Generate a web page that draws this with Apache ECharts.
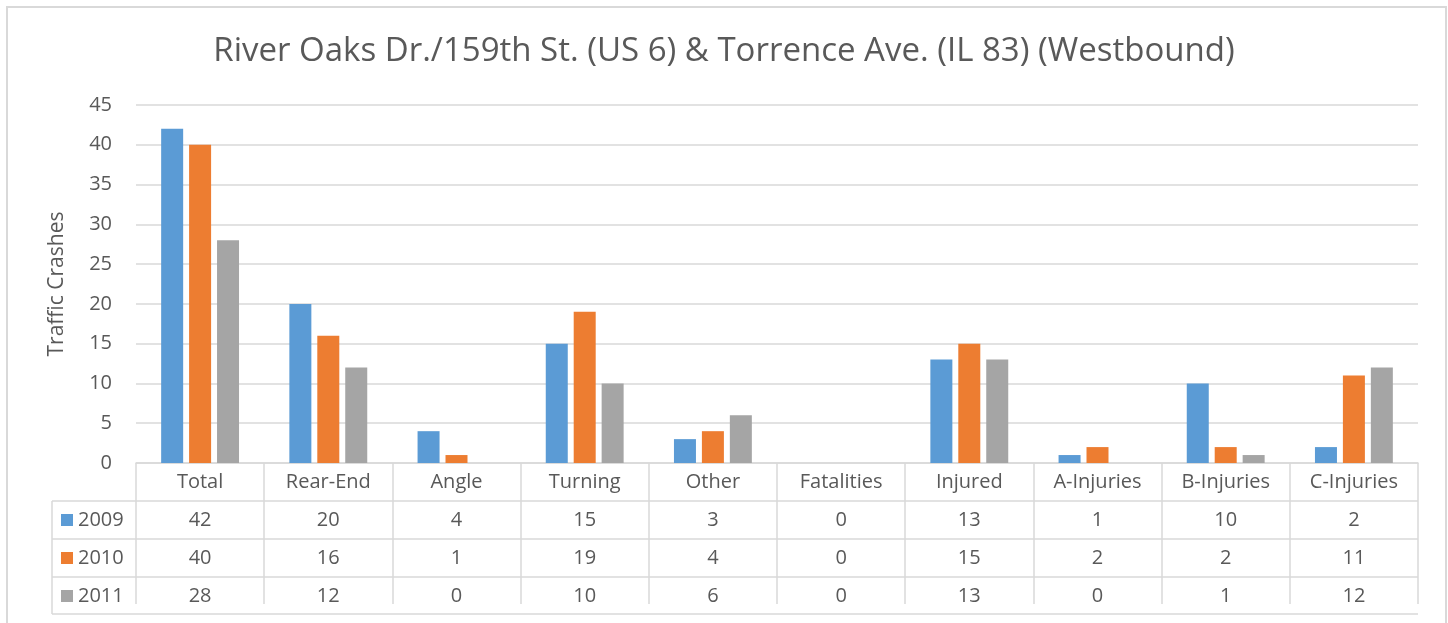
<!DOCTYPE html>
<html>
<head>
<meta charset="utf-8">
<script src="https://cdn.jsdelivr.net/npm/echarts@6/dist/echarts.min.js"></script>
<style>
  html, body { margin: 0; padding: 0; background: #fff; }
  #main { width: 1448px; height: 623px; }
</style>
</head>
<body>
<div id="main"></div>
<script>
;(function(){
  var categories = ['Total', 'Rear-End', 'Angle', 'Turning', 'Other', 'Fatalities', 'Injured', 'A-Injuries', 'B-Injuries', 'C-Injuries'];
  var years = ['2009', '2010', '2011'];
  var data2009 = [42, 20, 4, 15, 3, 0, 13, 1, 10, 2];
  var data2010 = [40, 16, 1, 19, 4, 0, 15, 2, 2, 11];
  var data2011 = [28, 12, 0, 10, 6, 0, 13, 0, 1, 12];
  var yTicks = [0, 5, 10, 15, 20, 25, 30, 35, 40, 45];

  var seriesData = [data2009, data2010, data2011];
  var colors = ['#5b9bd5', '#ed7d31', '#a5a5a5'];
  var font = 'Open Sans';
  var textColor = '#595959';
  var lineColor = '#d9d9d9';
  var fs = 20;

  // layout
  var gridLeft = 136, gridRight = 30, gridTop = 105, gridBottom = 160;
  var axisY = 623 - gridBottom;   // 463
  var rowH = 38;
  var tableLeft = 52;
  var tableRight = 1448 - gridRight;

  var chart = echarts.init(document.getElementById('main'));

  // one x axis per table row (header + one per year)
  var xAxes = [{
    type: 'category',
    data: categories,
    axisLine: { show: true, lineStyle: { color: lineColor, width: 1.5 } },
    axisTick: { show: true, length: rowH * 4 - 11, lineStyle: { color: lineColor, width: 1.5 } },
    axisLabel: { fontFamily: font, fontSize: fs, color: textColor, margin: 9, interval: 0 }
  }];
  seriesData.forEach(function(vals, k){
    xAxes.push({
      type: 'category',
      data: categories,
      position: 'bottom',
      offset: rowH * (k + 1),
      axisLine: { show: false },
      axisTick: { show: false },
      axisLabel: {
        fontFamily: font, fontSize: fs, color: textColor, margin: 9, interval: 0,
        formatter: function(v, i){ return String(vals[i]); }
      }
    });
  });

  // outer frame and table lines
  var graphics = [{
    type: 'rect',
    shape: { x: 7, y: 7, width: 1439, height: 660 },
    style: { fill: 'none', stroke: lineColor, lineWidth: 2 },
    silent: true
  }];
  for (var r = 1; r <= 4; r++) {
    var ly = axisY + rowH * r - (r === 4 ? 1 : 0);
    graphics.push({
      type: 'line',
      shape: { x1: tableLeft, y1: ly, x2: tableRight, y2: ly },
      style: { stroke: lineColor, lineWidth: 1.5 },
      silent: true
    });
  }
  graphics.push({
    type: 'line',
    shape: { x1: tableLeft, y1: axisY + rowH, x2: tableLeft, y2: axisY + rowH * 4 - 1 },
    style: { stroke: lineColor, lineWidth: 1.5 },
    silent: true
  });
  // legend keys in the table's first column
  years.forEach(function(y, k){
    var cy = axisY + rowH * (k + 1.5);
    graphics.push({
      type: 'rect',
      shape: { x: 61, y: cy - 6, width: 12, height: 12 },
      style: { fill: colors[k] },
      silent: true
    });
    graphics.push({
      type: 'text',
      x: 78, y: cy,
      style: { text: y, fontFamily: font, fontSize: fs, fill: textColor, verticalAlign: 'middle', align: 'left' },
      silent: true
    });
  });

  var option = {
    animation: false,
    color: colors,
    title: {
      text: 'River Oaks Dr./159th St. (US 6) & Torrence Ave. (IL 83) (Westbound)',
      left: 'center',
      top: 30,
      textStyle: { fontFamily: font, fontSize: 33, fontWeight: 'normal', color: textColor }
    },
    grid: { left: gridLeft, right: gridRight, top: gridTop, bottom: gridBottom },
    xAxis: xAxes,
    yAxis: {
      type: 'value',
      min: yTicks[0],
      max: yTicks[yTicks.length - 1],
      interval: yTicks[1] - yTicks[0],
      name: 'Traffic Crashes',
      nameLocation: 'middle',
      nameGap: 68,
      nameTextStyle: { fontFamily: font, fontSize: 21, color: textColor },
      axisLine: { show: false },
      axisTick: { show: false },
      axisLabel: { fontFamily: font, fontSize: fs, color: textColor, margin: 24 },
      splitLine: { lineStyle: { color: lineColor, width: 1.5 } }
    },
    graphic: graphics,
    series: years.map(function(y, k){
      return {
        name: y,
        type: 'bar',
        data: seriesData[k],
        barWidth: 22,
        barGap: '27%',
        itemStyle: { color: colors[k] }
      };
    })
  };
  chart.setOption(option);
})();
</script>
</body>
</html>
